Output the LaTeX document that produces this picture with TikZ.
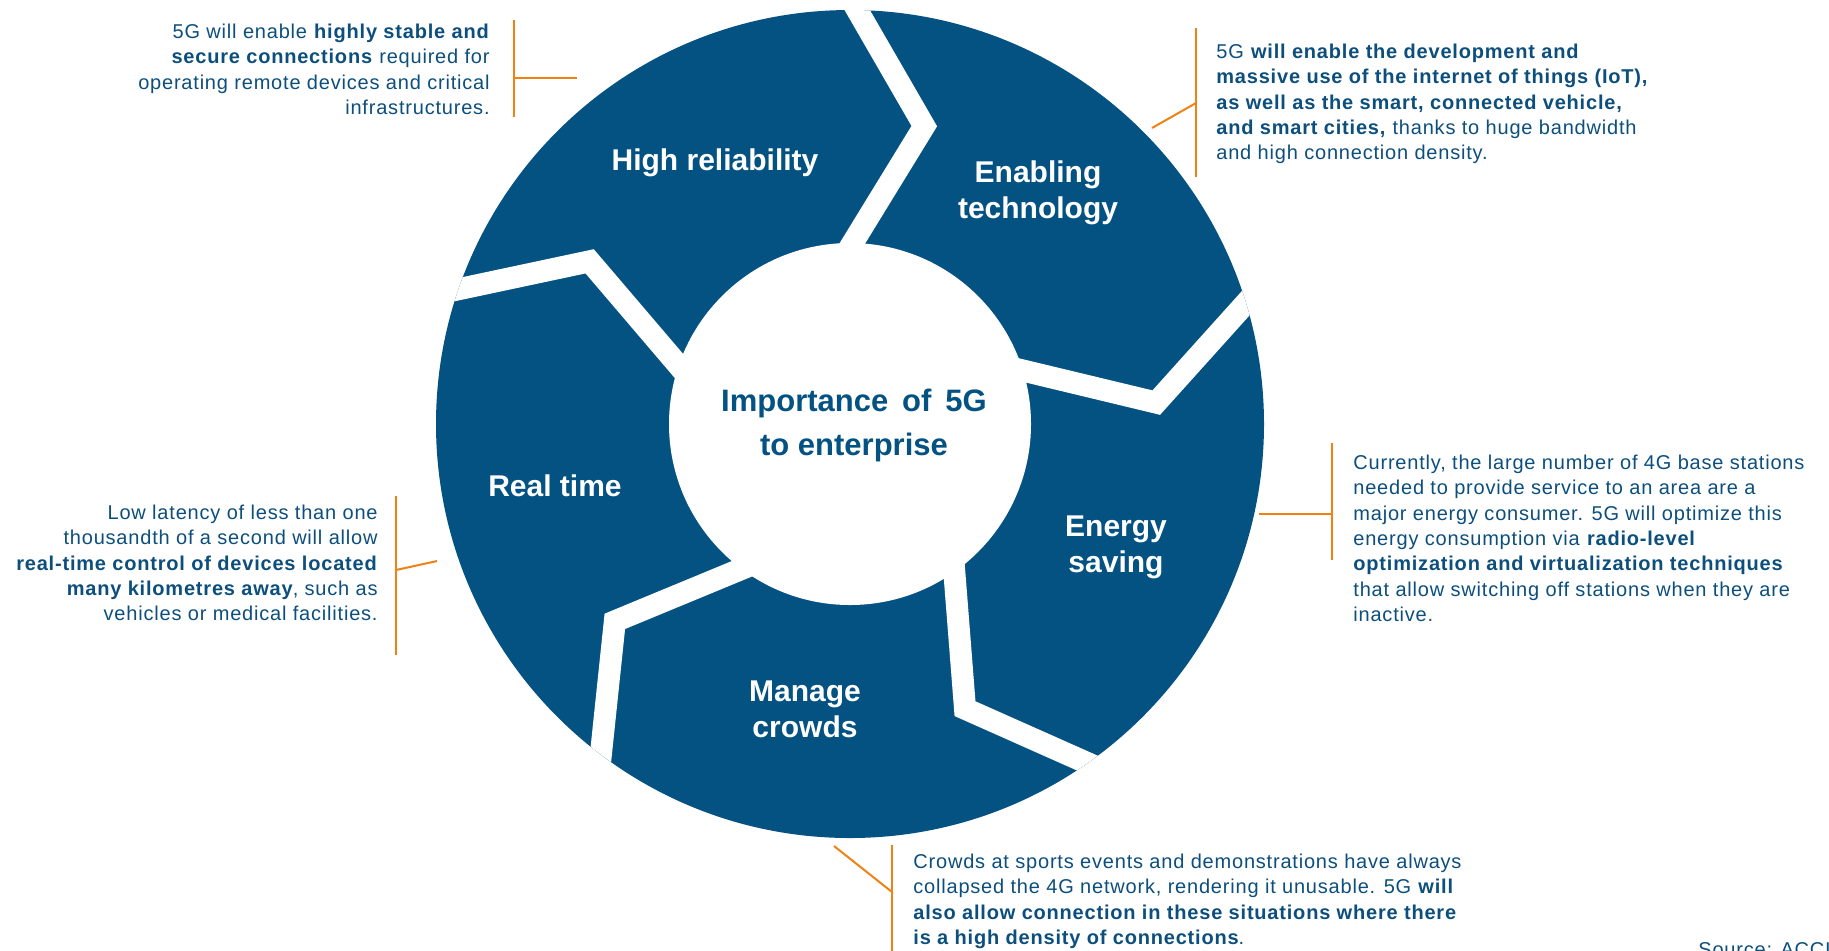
\documentclass[tikz,border=0pt]{standalone}
\usepackage{fontspec}
\setmainfont{Liberation Sans}
\newfontfamily\descfont{Liberation Sans}[LetterSpace=4.0]
\usetikzlibrary{calc}
\definecolor{ringblue}{RGB}{3,82,130}
\definecolor{textblue}{RGB}{12,79,125}
\definecolor{leadcol}{RGB}{240,130,20}
\begin{document}
\begin{tikzpicture}[x=0.5pt,y=-0.5pt,
  seglabel/.style={text=white,font=\fontsize{15}{18}\selectfont\bfseries,align=center,inner sep=0pt},
  corelabel/.style={text=ringblue,font=\fontsize{15.5}{22}\selectfont\bfseries,align=center,inner sep=0pt},
  desc/.style={text=textblue,font=\descfont\fontsize{10}{12.7}\selectfont,inner sep=0pt},
  gapline/.style={white,line width=11pt,line join=miter,miter limit=20},
  leaderline/.style={leadcol,line width=1pt}]
\useasboundingbox (0,0) rectangle (1829,950);
\fill[white] (0,0) rectangle (1829,950);

% ring of five chevron segments
\begin{scope}[shift={(850,424)}]
  \fill[ringblue] (0,0) circle[radius=414];
  \begin{scope}
    \clip (0,0) circle[radius=414];
    \foreach \a in {343,271,199,127,55}{
      \coordinate (O) at (\a:414);
      \coordinate (B) at (\a+13:307);
      \coordinate (I) at (\a:182);
      \draw[gapline] ($(B)!1.4!(O)$) -- (B) -- ($(B)!1.5!(I)$);
    }
  \end{scope}
  \fill[white] (0,0) circle[radius=181];
\end{scope}

% segment labels
\node[seglabel] (hr) at (715,163) {High reliability};
\node[seglabel] (et) at (1038,193) {Enabling\\technology};
\node[seglabel] (es) at (1116,547) {Energy\\saving};
\node[seglabel] (mc) at (805,709) {Manage\\crowds};
\node[seglabel] (rt) at (555,486) {Real time};
\node[corelabel] (core) at (854,425) {Importance\hspace{0.45em}of\hspace{0.45em}5G\\to enterprise};

% leader brackets
\coordinate (hrT) at (514,20);   \coordinate (hrB) at (514,117);
\coordinate (hrM) at (514,78);   \coordinate (hrE) at (577,78);
\coordinate (etT) at (1196,28);  \coordinate (etB) at (1196,177);
\coordinate (etM) at (1196,103); \coordinate (etE) at (1152,128);
\coordinate (esT) at (1332,443); \coordinate (esB) at (1332,560);
\coordinate (esM) at (1332,514); \coordinate (esE) at (1259,514);
\coordinate (rtT) at (396,496);  \coordinate (rtB) at (396,655);
\coordinate (rtM) at (396,570);  \coordinate (rtE) at (437,561);
\coordinate (mcT) at (892,845);  \coordinate (mcB) at (892,952);
\coordinate (mcM) at (892,892);  \coordinate (mcE) at (834,846);
\foreach \k in {hr,et,es,rt,mc}{
  \draw[leaderline] (\k T) -- (\k B);
  \draw[leaderline] (\k M) -- (\k E);
}

% descriptions
\node[desc,anchor=north east,align=right] (hrtext) at (490,23.4)
  {5G will enable \textbf{highly stable and}\\
   \textbf{secure connections} required for\\
   operating remote devices and critical\\
   infrastructures.};
\node[desc,anchor=north west,align=left] (ettext) at (1216,43.4)
  {5G \textbf{will enable the development and}\\
   \textbf{massive use of the internet of things (IoT),}\\
   \textbf{as well as the smart, connected vehicle,}\\
   \textbf{and smart cities,} thanks to huge bandwidth\\
   and high connection density.};
\node[desc,anchor=north west,align=left] (estext) at (1353,454.4)
  {Currently, the large number of 4G base stations\\
   needed to provide service to an area are a\\
   major energy consumer. 5G will optimize this\\
   energy consumption via \textbf{radio-level}\\
   \textbf{optimization and virtualization techniques}\\
   that allow switching off stations when they are\\
   inactive.};
\node[desc,anchor=north east,align=right] (rttext) at (378,504.4)
  {Low latency of less than one\\
   thousandth of a second will allow\\
   \textbf{real-time control of devices located}\\
   \textbf{many kilometres away}, such as\\
   vehicles or medical facilities.};
\node[desc,anchor=north west,align=left] (mctext) at (913,853.4)
  {Crowds at sports events and demonstrations have always\\
   collapsed the 4G network, rendering it unusable. 5G \textbf{will}\\
   \textbf{also allow connection in these situations where there}\\
   \textbf{is a high density of connections}.};
\node[desc,anchor=north west] (src) at (1698,939) {Source: ACCIÓ};
\end{tikzpicture}
\end{document}
